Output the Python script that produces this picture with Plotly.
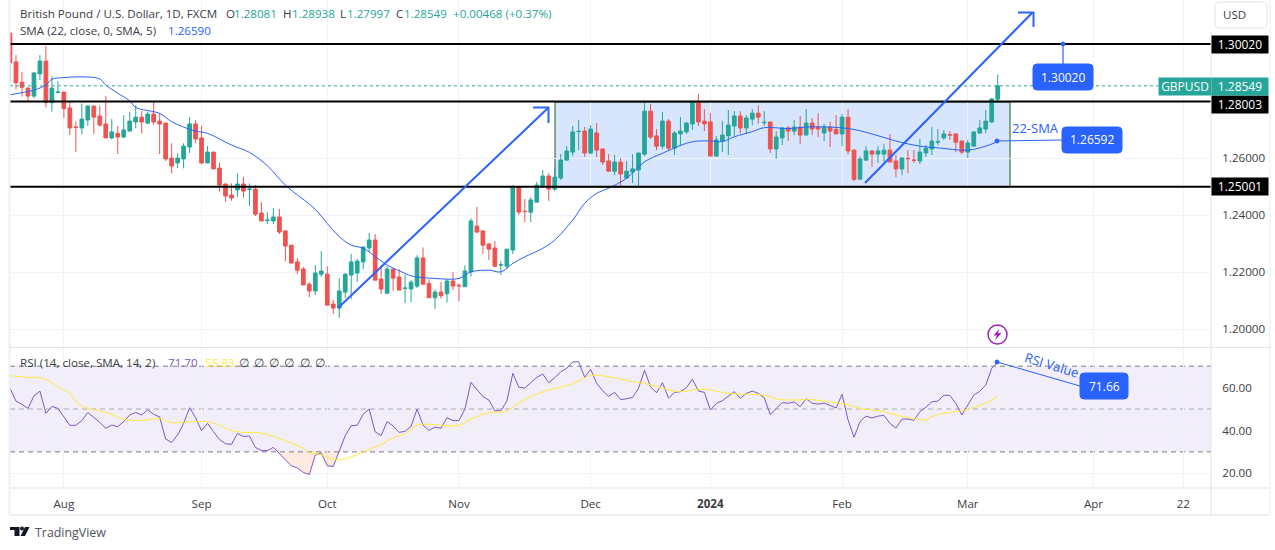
import plotly.graph_objects as go

W, H = 1275, 550

OPENS = [
    1.3040,1.2939,1.2868,1.2847,1.2819,1.2897,1.2942,1.2796,1.2832,1.2833,
    1.2777,1.2710,1.2707,1.2735,1.2784,1.2749,1.2721,1.2672,1.2688,1.2675,
    1.2696,1.2728,1.2745,1.2724,1.2756,1.2731,1.2724,1.2601,1.2584,1.2598,
    1.2640,1.2721,1.2672,1.2584,1.2622,1.2566,1.2510,1.2471,1.2489,1.2510,
    1.2491,1.2492,1.2408,1.2382,1.2380,1.2394,1.2345,1.2295,1.2236,1.2211,
    1.2158,1.2134,1.2193,1.2193,1.2088,1.2074,1.2130,1.2190,1.2197,1.2236,
    1.2285,1.2313,1.2176,1.2126,1.2211,1.2183,1.2143,1.2141,1.2151,1.2250,
    1.2160,1.2110,1.2130,1.2124,1.2169,1.2154,1.2149,1.2201,1.2362,1.2345,
    1.2299,1.2285,1.2225,1.2221,1.2278,1.2499,1.2414,1.2411,1.2446,1.2503,
    1.2538,1.2492,1.2531,1.2594,1.2622,1.2694,1.2696,1.2619,1.2689,1.2633,
    1.2591,1.2555,1.2587,1.2531,1.2552,1.2559,1.2615,1.2766,1.2679,1.2643,
    1.2731,1.2636,1.2686,1.2693,1.2721,1.2798,1.2731,1.2728,1.2608,1.2661,
    1.2679,1.2714,1.2749,1.2707,1.2738,1.2759,1.2725,1.2728,1.2633,1.2672,
    1.2707,1.2696,1.2710,1.2682,1.2724,1.2710,1.2689,1.2710,1.2702,1.2686,
    1.2745,1.2629,1.2527,1.2594,1.2626,1.2615,1.2615,1.2629,1.2591,1.2563,
    1.2600,1.2594,1.2591,1.2619,1.2633,1.2657,1.2672,1.2683,1.2686,1.2661,
    1.2622,1.2643,1.2689,1.2703,1.2728,1.28081,
]
HIGHS = [
    1.3045,1.2963,1.2904,1.2850,1.2904,1.2963,1.2995,1.2889,1.2872,1.2834,
    1.2799,1.2729,1.2793,1.2787,1.2785,1.2784,1.2819,1.2738,1.2714,1.2752,
    1.2764,1.2786,1.2766,1.2764,1.2802,1.2758,1.2725,1.2653,1.2618,1.2653,
    1.2745,1.2735,1.2714,1.2643,1.2623,1.2586,1.2511,1.2512,1.2547,1.2536,
    1.2512,1.2506,1.2446,1.2411,1.2425,1.2422,1.2348,1.2296,1.2250,1.2218,
    1.2165,1.2225,1.2274,1.2221,1.2102,1.2179,1.2197,1.2264,1.2246,1.2292,
    1.2337,1.2334,1.2225,1.2221,1.2215,1.2210,1.2193,1.2172,1.2260,1.2287,
    1.2175,1.2139,1.2165,1.2175,1.2200,1.2160,1.2224,1.2390,1.2429,1.2348,
    1.2302,1.2309,1.2239,1.2281,1.2506,1.2503,1.2457,1.2464,1.2517,1.2559,
    1.2548,1.2570,1.2615,1.2643,1.2714,1.2735,1.2710,1.2717,1.2724,1.2634,
    1.2615,1.2612,1.2601,1.2591,1.2615,1.2619,1.2795,1.2791,1.2703,1.2763,
    1.2738,1.2696,1.2745,1.2728,1.2802,1.2826,1.2773,1.2759,1.2679,1.2731,
    1.2770,1.2766,1.2766,1.2752,1.2773,1.2787,1.2766,1.2729,1.2696,1.2710,
    1.2714,1.2735,1.2749,1.2773,1.2742,1.2759,1.2721,1.2729,1.2752,1.2756,
    1.2773,1.2633,1.2606,1.2643,1.2629,1.2643,1.2650,1.2686,1.2612,1.2605,
    1.2629,1.2629,1.2668,1.2647,1.2710,1.2703,1.2700,1.2696,1.2687,1.2662,
    1.2665,1.2693,1.2735,1.2770,1.2812,1.28938,
]
LOWS = [
    1.2870,1.2843,1.2817,1.2799,1.2811,1.2875,1.2779,1.2764,1.2829,1.2742,
    1.2682,1.2623,1.2684,1.2714,1.2686,1.2711,1.2672,1.2667,1.2615,1.2672,
    1.2696,1.2706,1.2688,1.2721,1.2717,1.2615,1.2591,1.2548,1.2566,1.2565,
    1.2619,1.2653,1.2580,1.2584,1.2563,1.2483,1.2448,1.2451,1.2465,1.2462,
    1.2432,1.2397,1.2380,1.2369,1.2369,1.2334,1.2239,1.2232,1.2193,1.2155,
    1.2112,1.2120,1.2183,1.2084,1.2053,1.2039,1.2109,1.2105,1.2165,1.2211,
    1.2271,1.2172,1.2123,1.2126,1.2134,1.2137,1.2091,1.2095,1.2144,1.2155,
    1.2110,1.2071,1.2107,1.2093,1.2137,1.2098,1.2149,1.2184,1.2337,1.2264,
    1.2243,1.2218,1.2190,1.2211,1.2264,1.2401,1.2376,1.2376,1.2446,1.2496,
    1.2450,1.2485,1.2524,1.2591,1.2608,1.2629,1.2605,1.2615,1.2605,1.2577,
    1.2555,1.2541,1.2503,1.2527,1.2513,1.2503,1.2608,1.2668,1.2629,1.2633,
    1.2626,1.2612,1.2643,1.2686,1.2700,1.2714,1.2696,1.2608,1.2608,1.2623,
    1.2612,1.2679,1.2688,1.2686,1.2717,1.2721,1.2714,1.2619,1.2598,1.2647,
    1.2661,1.2682,1.2650,1.2682,1.2682,1.2675,1.2661,1.2640,1.2686,1.2643,
    1.2615,1.2520,1.2527,1.2591,1.2570,1.2584,1.2587,1.2587,1.2534,1.2541,
    1.2548,1.2584,1.2580,1.2605,1.2612,1.2647,1.2665,1.2665,1.2622,1.2615,
    1.2601,1.2643,1.2686,1.2689,1.2724,1.27997,
]
CLOSES = [
    1.2936,1.2866,1.2850,1.2819,1.2900,1.2942,1.2796,1.2847,1.2833,1.2775,
    1.2707,1.2709,1.2738,1.2784,1.2745,1.2717,1.2672,1.2693,1.2675,1.2700,
    1.2731,1.2745,1.2728,1.2756,1.2728,1.2721,1.2598,1.2573,1.2601,1.2643,
    1.2721,1.2668,1.2584,1.2622,1.2563,1.2506,1.2468,1.2461,1.2510,1.2485,
    1.2492,1.2404,1.2380,1.2383,1.2394,1.2341,1.2292,1.2232,1.2207,1.2155,
    1.2134,1.2197,1.2204,1.2084,1.2074,1.2134,1.2193,1.2236,1.2239,1.2288,
    1.2313,1.2172,1.2141,1.2211,1.2179,1.2137,1.2144,1.2165,1.2250,1.2158,
    1.2110,1.2130,1.2117,1.2169,1.2151,1.2152,1.2204,1.2380,1.2341,1.2295,
    1.2281,1.2221,1.2226,1.2281,1.2499,1.2411,1.2413,1.2454,1.2506,1.2538,
    1.2492,1.2534,1.2594,1.2626,1.2693,1.2695,1.2619,1.2703,1.2629,1.2587,
    1.2555,1.2587,1.2545,1.2555,1.2563,1.2619,1.2766,1.2675,1.2643,1.2731,
    1.2636,1.2689,1.2696,1.2724,1.2798,1.2728,1.2721,1.2608,1.2665,1.2682,
    1.2717,1.2749,1.2707,1.2742,1.2759,1.2745,1.2727,1.2633,1.2675,1.2707,
    1.2696,1.2710,1.2682,1.2724,1.2703,1.2703,1.2710,1.2696,1.2686,1.2745,
    1.2626,1.2526,1.2598,1.2626,1.2615,1.2626,1.2629,1.2587,1.2563,1.2601,
    1.2599,1.2593,1.2622,1.2636,1.2661,1.2659,1.2686,1.2682,1.2657,1.2622,
    1.2654,1.2693,1.2707,1.2731,1.2809,1.28549,
]

# SMA at these bars
SMA_BARS = [0,4,6,7,9,13,15,16,18,20,21,25,27,29,31,33,37,40,43,46,51,53,55,57,59,63,66,67,
            71,75,77,80,82,84,86,89,91,94,96,98,100,103,106,109,113,115,117,119,121,124,126,
            130,134,140,144,148,152,155,160,163,165]
SMA_VALS = [1.2824,1.2840,1.2858,1.2878,1.2884,1.2886,1.2879,1.2858,1.2829,1.2802,1.2779,1.2758,
            1.2729,1.2710,1.2696,1.2688,1.2647,1.2621,1.2574,1.2506,1.2421,1.2371,1.2325,1.2295,
            1.2284,1.2225,1.2196,1.2187,1.2178,1.2178,1.2201,1.2207,1.2201,1.2231,1.2254,1.2284,
            1.2313,1.2383,1.2442,1.2477,1.2495,1.2530,1.2588,1.2618,1.2653,1.2661,1.2661,1.2659,
            1.2676,1.2694,1.2708,1.2705,1.2711,1.2705,1.2686,1.2661,1.2643,1.2637,1.2629,1.2643,
            1.2659]

RSI = [
    59.7,53.7,52.2,50.3,56.1,58.4,48.0,51.2,50.3,46.1,42.4,42.4,44.6,48.4,46.1,43.8,41.0,42.5,41.8,44.1,
    47.2,48.4,47.2,49.7,47.5,46.3,36.0,34.4,37.9,43.3,50.6,46.0,39.9,43.3,39.4,35.8,33.8,33.5,38.6,37.2,
    37.4,32.1,30.6,30.6,32.1,29.3,26.5,23.5,22.5,20.4,19.4,28.5,29.5,23.5,23.2,30.1,37.6,42.2,42.4,47.5,
    50.0,39.4,37.6,44.1,42.1,39.1,39.6,41.9,50.0,42.5,40.0,41.6,41.0,46.0,44.6,44.6,50.0,62.5,59.2,55.8,
    54.2,49.2,49.2,53.7,66.7,60.1,59.8,62.3,64.8,66.3,62.3,64.6,67.4,69.0,72.0,72.1,64.8,68.5,62.0,58.6,
    55.9,57.8,54.4,54.8,55.4,59.7,68.1,60.4,57.6,62.3,55.1,57.8,58.1,60.0,64.0,58.4,57.8,49.5,52.7,53.9,
    56.1,58.1,55.0,57.3,58.4,57.3,55.3,47.4,50.3,53.0,52.7,53.3,51.1,54.8,52.7,52.3,52.8,51.6,50.5,56.9,
    44.9,36.8,44.1,46.7,45.8,46.7,47.0,43.3,41.1,45.3,45.3,44.7,48.8,50.8,53.4,53.7,56.4,56.4,52.7,47.2,
    51.9,56.5,58.3,61.2,69.0,71.7,
]

RSI_MA_BARS = [0,2,3,5,7,8,10,11,13,15,17,19,22,25,27,29,31,33,35,37,39,41,43,46,49,50,52,54,56,58,60,62,
               64,66,68,70,72,75,77,80,83,85,87,90,92,95,97,101,104,106,109,112,115,117,120,123,126,128,
               131,134,137,140,142,146,148,151,153,154,156,159,160,163,165]
RSI_MA_VALS = [65.6,65.1,64.8,64.6,62.5,60.4,57.3,53.4,50.3,49.1,47.5,45.2,44.7,45.5,43.6,43.8,44.2,44.1,
               42.4,40.0,39.1,39.1,38.2,35.1,31.6,29.6,28.7,26.4,26.8,28.8,31.2,33.5,36.5,38.6,42.5,42.9,
               42.4,42.4,45.3,48.3,49.1,52.8,55.8,58.9,60.1,63.1,65.7,64.6,62.8,62.0,59.7,58.1,59.2,58.9,
               57.3,56.9,56.5,54.7,54.2,54.4,53.3,51.9,50.3,48.8,47.2,45.5,45.0,46.4,48.0,49.2,49.9,52.7,
               55.83]

TICK_BARS = [9,32,53,75,97,117,139,160,181,196]
TICK_LABELS = ["Aug","Sep","Oct","Nov","Dec","<b>2024</b>","Feb","Mar","Apr","22"]
PRICE_TICKS = [1.26,1.24,1.22,1.20]
RSI_TICKS = [60,40,20]
LEVELS = [1.30020,1.28003,1.25001]
LAST_PRICE = 1.28549

UP, DOWN = "#26a69a", "#ef5350"
BLUE = "#2962ff"
GRID = "#f0f3fa"
BORDER = "#e0e3eb"
TXT = "#3a3d47"
FONT = "Open Sans"
FS = 11.6

bars = list(range(len(CLOSES)))

def px(x):
    return x / W

def py(y):
    return 1 - y / H

def line(x0, y0, x1, y1, color=BLUE, width=1, dash="solid", layer="above"):
    return dict(type="line", xref="paper", yref="paper", x0=px(x0), y0=py(y0), x1=px(x1), y1=py(y1),
                line=dict(color=color, width=width, dash=dash), layer=layer)

def circle(x, y, r, fill=BLUE, color=BLUE, width=1):
    return dict(type="circle", xref="paper", yref="paper", x0=px(x-r), y0=py(y-r), x1=px(x+r), y1=py(y+r),
                fillcolor=fill, line=dict(color=color, width=width))

def round_box(x0, y0, x1, y1, r=4, fill=BLUE, color=None):
    d = (f"M {px(x0+r)} {py(y0)} L {px(x1-r)} {py(y0)} Q {px(x1)} {py(y0)} {px(x1)} {py(y0+r)} "
         f"L {px(x1)} {py(y1-r)} Q {px(x1)} {py(y1)} {px(x1-r)} {py(y1)} "
         f"L {px(x0+r)} {py(y1)} Q {px(x0)} {py(y1)} {px(x0)} {py(y1-r)} "
         f"L {px(x0)} {py(y0+r)} Q {px(x0)} {py(y0)} {px(x0+r)} {py(y0)} Z")
    return dict(type="path", xref="paper", yref="paper", path=d, fillcolor=fill,
                line=dict(color=color or fill, width=1))

def poly(points, fill):
    d = "M " + " L ".join(f"{px(x)} {py(y)}" for x, y in points) + " Z"
    return dict(type="path", xref="paper", yref="paper", path=d, fillcolor=fill, line=dict(width=0))

def text(x, y, s, size=FS, color=TXT, anchor="left", **kw):
    return dict(xref="paper", yref="paper", x=px(x), y=py(y), text=s, showarrow=False, xanchor=anchor,
                yanchor="middle", font=dict(family=FONT, size=size, color=color), **kw)

def label(y, s, bg, x=1211, w=56, color="white"):
    return text(x, y, s, size=12, color=color, bgcolor=bg, width=w, height=17, borderpad=0, align="center")

fig = go.Figure()

fig.add_trace(go.Candlestick(
    x=bars, open=OPENS, high=HIGHS, low=LOWS, close=CLOSES, xaxis="x", yaxis="y",
    whiskerwidth=0, hoverinfo="skip",
    increasing=dict(line=dict(color=UP, width=1), fillcolor=UP),
    decreasing=dict(line=dict(color=DOWN, width=1), fillcolor=DOWN),
))
fig.add_trace(go.Scatter(x=SMA_BARS, y=SMA_VALS, mode="lines", xaxis="x", yaxis="y",
                         line=dict(color=BLUE, width=1, shape="spline")))

# oversold shading between the 30 line and RSI
fig.add_trace(go.Scatter(x=bars, y=[30]*len(bars), mode="lines", xaxis="x2", yaxis="y2",
                         line=dict(width=0)))
fig.add_trace(go.Scatter(x=bars, y=[min(v, 30) for v in RSI], mode="lines", xaxis="x2", yaxis="y2",
                         line=dict(width=0), fill="tonexty", fillcolor="rgba(255,140,90,0.18)"))
fig.add_trace(go.Scatter(x=bars, y=RSI, mode="lines", xaxis="x2", yaxis="y2",
                         line=dict(color="#7e57c2", width=1)))
fig.add_trace(go.Scatter(x=RSI_MA_BARS, y=RSI_MA_VALS, mode="lines", xaxis="x2", yaxis="y2",
                         line=dict(color="#ffeb3b", width=1, shape="spline")))

shapes = [
    # RSI band
    dict(type="rect", xref="x2", yref="y2", x0=0, x1=200.63, y0=30, y1=70,
         fillcolor="rgba(126,87,194,0.1)", line=dict(width=0), layer="below"),
    # consolidation box
    dict(type="rect", xref="paper", yref="paper", x0=px(555), x1=px(1010), y0=py(187), y1=py(102),
         fillcolor="rgba(66,133,244,0.21)", line=dict(color="#1b5e20", width=1), layer="below"),
]
for v in (70, 50, 30):
    shapes.append(dict(type="line", xref="x2", yref="y2", x0=0, x1=200.63, y0=v, y1=v, layer="below",
                       line=dict(color="rgba(120,123,134,0.6)" if v == 50 else "#787b86", width=1, dash="5px,4px")))
for v in LEVELS:
    shapes.append(dict(type="line", xref="x", yref="y", x0=0, x1=200.63, y0=v, y1=v,
                       line=dict(color="black", width=2)))
shapes.append(dict(type="line", xref="x", yref="y", x0=0, x1=191.8, y0=LAST_PRICE, y1=LAST_PRICE,
                   line=dict(color=UP, width=1, dash="dot")))
shapes += [
    # frame
    line(9.5, 0, 9.5, 515, color="#eeeff4", width=2),
    line(9, 515, 1270, 515, color="#eeeff4", width=2),
    line(1270, 0, 1270, 515, color="#eeeff4", width=1),
    line(10, 347.5, 1270, 347.5, color=BORDER),
    line(10, 488, 1270, 488, color=BORDER),
    line(1211, 32, 1211, 515, color=BORDER),
    # trend arrows
    line(338, 308, 548, 108, width=2),
    line(533, 107.5, 549, 107.5, width=2),
    line(548.5, 107, 548.5, 123, width=2),
    line(865, 183, 1032, 13, width=2),
    line(1018, 12.5, 1034, 12.5, width=2),
    line(1033.5, 12, 1033.5, 27, width=2),
    # callouts
    line(1063, 44, 1063, 64, color="#7fa0ff", width=2),
    circle(1063, 44, 2),
    round_box(1033, 64, 1093, 90),
    line(997, 141, 1062, 140),
    circle(997, 141, 2),
    round_box(1062, 127, 1122, 153),
    line(997, 362, 1080, 386),
    circle(997, 362, 2),
    round_box(1080, 373, 1128, 399),
    # bolt marker
    circle(997.5, 334.5, 9.5, fill="white", color="#9c27b0", width=1.5),
    poly([(999.5, 328.5), (993.5, 335.5), (997, 335.5), (995, 340.5), (1001.5, 333), (998, 333)], "#9c27b0"),
    # USD button
    round_box(1215, 2, 1267, 28, r=5, fill="white", color=BORDER),
    # TradingView logo
    poly([(10, 527), (19.5, 527), (19.5, 536), (14.5, 536), (14.5, 530), (10, 530)], "#131722"),
    circle(22, 528.5, 1.6, fill="#131722", color="#131722"),
    poly([(25, 527), (29.5, 527), (25, 536), (20.5, 536)], "#131722"),
]

annotations = [
    text(18, 13, "British Pound / U.S. Dollar, 1D, FXCM"),
    text(224, 13, "O"), text(232, 13, "1.28081", color=UP),
    text(281, 13, "H"), text(290, 13, "1.28938", color=UP),
    text(338, 13, "L"), text(345, 13, "1.27997", color=UP),
    text(394, 13, "C"), text(402, 13, "1.28549", color=UP),
    text(451, 13, "+0.00468 (+0.37%)", color=UP),
    text(18, 30, "SMA (22, close, 0, SMA, 5)"),
    text(166, 30, "1.26590", color=BLUE),
    text(18, 362.5, "RSI (14, close, SMA, 14, 2)"),
    text(166, 362.5, "71.70", color="#7e57c2"),
    text(203, 362.5, "55.83", color="#ffeb3b"),
    label(44.5, "1.30020", "black"),
    label(104, "1.28003", "black"),
    label(186.5, "1.25001", "black"),
    label(86.5, "1.28549", UP),
    label(86.5, "GBPUSD", UP, x=1158, w=52),
    text(1063, 77, "1.30020", size=12, color="white", anchor="center"),
    text(1092, 140, "1.26592", size=12, color="white", anchor="center"),
    text(1104, 386, "71.66", size=12, color="white", anchor="center"),
    text(1035, 128, "22-SMA", size=13, color=BLUE, anchor="center"),
    text(1052, 365, "RSI Value", size=13, color=BLUE, anchor="center", textangle=17),
    text(1234, 15, "USD", anchor="center"),
    text(33, 532, "TradingView", size=12.4, color="#50535e"),
]
for x in (244, 259, 274, 289, 305, 320):
    annotations.append(text(x, 362.5, "∅", anchor="center"))

x_domain = [px(10), px(1211)]
common_x = dict(domain=x_domain, range=[0, 200.63], tickmode="array", tickvals=TICK_BARS,
                showgrid=True, gridcolor=GRID, gridwidth=1, zeroline=False, showline=False)
fig.update_layout(
    width=W, height=H, autosize=False, showlegend=False,
    margin=dict(l=0, r=0, t=0, b=0, pad=0),
    paper_bgcolor="white", plot_bgcolor="white", boxgap=0.12,
    font=dict(family=FONT, size=FS, color=TXT),
    xaxis=dict(anchor="y", showticklabels=False, ticks="", rangeslider=dict(visible=False), **common_x),
    xaxis2=dict(anchor="y2", matches="x", ticktext=TICK_LABELS, ticks="outside", ticklen=5, tickcolor="white",
                **common_x),
    yaxis=dict(domain=[py(347), 1], range=[1.19370, 1.31567], side="right", anchor="x", tickmode="array",
               tickvals=PRICE_TICKS, tickformat=".5f", showgrid=True, gridcolor=GRID, zeroline=False,
               ticks="outside", ticklen=8, tickcolor="white"),
    yaxis2=dict(domain=[py(488), py(348)], range=[13.13, 78.5], side="right", anchor="x2", tickmode="array",
                tickvals=RSI_TICKS, tickformat=".2f", showgrid=True, gridcolor=GRID, zeroline=False,
                ticks="outside", ticklen=8, tickcolor="white"),
    shapes=shapes, annotations=annotations,
)

fig.write_html("out.html", config=dict(displayModeBar=False),
               post_script="document.body.style.margin='0';document.body.style.overflow='hidden';")
